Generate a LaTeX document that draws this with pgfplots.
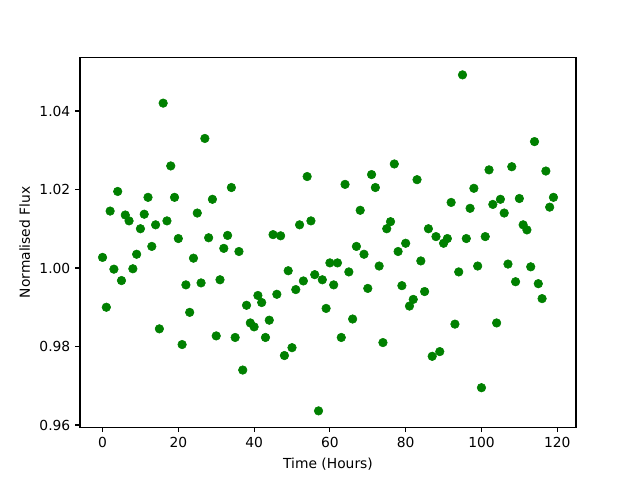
\documentclass[border=0pt]{standalone}
\usepackage{fontspec}
\setmainfont{DejaVu Sans}
\usepackage{pgfplots}
\pgfplotsset{compat=1.18}
\definecolor{mplgreen}{rgb}{0,0.5,0}
\begin{document}
\begin{tikzpicture}
\useasboundingbox (-0.8in,-0.528in) rectangle (5.6in,4.272in);
\begin{axis}[
  at={(0,0)}, anchor=south west,
  scale only axis, width=4.96in, height=3.696in,
  xmin=-5.95, xmax=124.95, ymin=0.95944, ymax=1.0536,
  xtick={0,20,40,60,80,100,120},
  ytick={0.96,0.98,1.00,1.02,1.04},
  yticklabel style={/pgf/number format/.cd,fixed,fixed zerofill,precision=2},
  /pgf/number format/assume math mode=true,
  tick align=outside, xtick pos=bottom, ytick pos=left,
  major tick length=3.5pt,
  every tick/.style={black, line width=0.8pt},
  axis line style={line width=0.8pt},
  ticklabel style={font=\fontsize{10}{12}\selectfont},
  label style={font=\fontsize{10}{12}\selectfont},
  xlabel={Time (Hours)}, ylabel={Normalised Flux},
  xlabel style={yshift=-1pt},
  ylabel style={yshift=0pt},
]
\addplot[only marks, mark=*, mark size=3.1pt, mplgreen, mark options={draw=mplgreen, fill=mplgreen}] table {
x y
0 1.0027
1 0.9900
2 1.0145
3 0.9997
4 1.0195
5 0.9968
6 1.0135
7 1.0120
8 0.9998
9 1.0035
10 1.0100
11 1.0137
12 1.0180
13 1.0055
14 1.0110
15 0.9845
16 1.0420
17 1.0120
18 1.0260
19 1.0180
20 1.0075
21 0.9805
22 0.9957
23 0.9887
24 1.0025
25 1.0140
26 0.9962
27 1.0330
28 1.0077
29 1.0175
30 0.9827
31 0.9970
32 1.0050
33 1.0083
34 1.0205
35 0.9823
36 1.0042
37 0.9740
38 0.9905
39 0.9860
40 0.9850
41 0.9930
42 0.9912
43 0.9823
44 0.9867
45 1.0085
46 0.9933
47 1.0082
48 0.9777
49 0.9993
50 0.9797
51 0.9945
52 1.0110
53 0.9967
54 1.0233
55 1.0120
56 0.9983
57 0.9636
58 0.9970
59 0.9897
60 1.0013
61 0.9957
62 1.0013
63 0.9823
64 1.0213
65 0.9990
66 0.9870
67 1.0055
68 1.0147
69 1.0035
70 0.9948
71 1.0238
72 1.0205
73 1.0005
74 0.9810
75 1.0100
76 1.0118
77 1.0265
78 1.0042
79 0.9955
80 1.0063
81 0.9903
82 0.9920
83 1.0225
84 1.0018
85 0.9940
86 1.0100
87 0.9775
88 1.0080
89 0.9787
90 1.0063
91 1.0075
92 1.0167
93 0.9857
94 0.9990
95 1.0492
96 1.0075
97 1.0152
98 1.0203
99 1.0005
100 0.9695
101 1.0080
102 1.0250
103 1.0162
104 0.9860
105 1.0175
106 1.0140
107 1.0010
108 1.0258
109 0.9965
110 1.0177
111 1.0110
112 1.0097
113 1.0003
114 1.0322
115 0.9960
116 0.9922
117 1.0247
118 1.0155
119 1.0180
};
\end{axis}
\end{tikzpicture}
\end{document}
